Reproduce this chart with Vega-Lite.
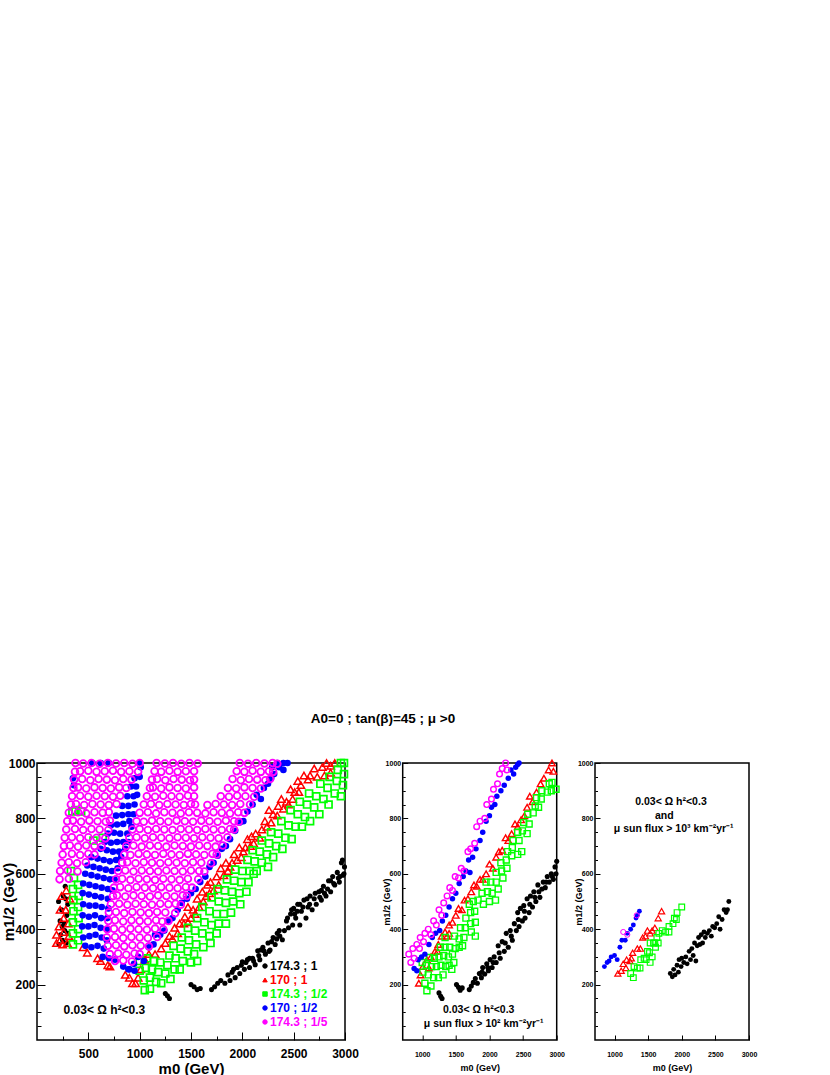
{"$schema":"https://vega.github.io/schema/vega-lite/v6.json","background":"white","padding":{"left":0,"top":711,"right":5,"bottom":0},"bounds":"flush","spacing":57.7,"title":{"text":"A0=0 ; tan(β)=45 ; μ >0","font":"Liberation Sans","fontSize":13.5,"fontWeight":"bold","color":"black","anchor":"middle","offset":30,"dx":4},"config":{"view":{"stroke":"black","strokeWidth":1.5},"font":"Liberation Sans","axis":{"grid":false,"domain":false,"labelFlush":false,"labelFont":"Liberation Sans","titleFont":"Liberation Sans","labelFontWeight":"bold","titleFontWeight":"bold","labelColor":"black","titleColor":"black","tickColor":"black"},"text":{"font":"Liberation Sans","fontWeight":"bold","color":"black"}},"resolve":{"scale":{"color":"independent","shape":"independent"},"legend":{"color":"independent","shape":"independent"}},"datasets":{
"a_0":[],
"a_k":[{"x":1250,"y":168},{"x":1270,"y":160},{"x":1290,"y":150},{"x":1500,"y":200},{"x":1530,"y":192},{"x":1560,"y":182},{"x":1590,"y":186},{"x":1700,"y":182},{"x":1730,"y":192},{"x":1760,"y":205},{"x":1790,"y":215},{"x":1830,"y":205},{"x":1860,"y":235},{"x":1880,"y":215},{"x":1900,"y":245},{"x":1930,"y":225},{"x":1950,"y":262},{"x":1975,"y":240},{"x":2000,"y":282},{"x":2020,"y":255},{"x":2050,"y":290},{"x":2070,"y":262},{"x":2100,"y":295},{"x":2125,"y":272},{"x":2150,"y":322},{"x":2170,"y":290},{"x":2200,"y":335},{"x":2225,"y":310},{"x":2250,"y":350},{"x":2270,"y":325},{"x":2300,"y":370},{"x":2320,"y":345},{"x":2340,"y":385},{"x":2365,"y":375},{"x":2390,"y":362},{"x":2410,"y":395},{"x":2430,"y":430},{"x":2450,"y":405},{"x":2470,"y":455},{"x":2490,"y":415},{"x":2500,"y":475},{"x":2520,"y":440},{"x":2540,"y":490},{"x":2560,"y":415},{"x":2575,"y":465},{"x":2600,"y":505},{"x":2620,"y":440},{"x":2640,"y":480},{"x":2660,"y":520},{"x":2680,"y":470},{"x":2700,"y":510},{"x":2720,"y":490},{"x":2745,"y":535},{"x":2770,"y":505},{"x":2790,"y":555},{"x":2815,"y":520},{"x":2840,"y":575},{"x":2860,"y":535},{"x":2880,"y":590},{"x":2900,"y":560},{"x":2925,"y":605},{"x":2945,"y":570},{"x":2965,"y":640},{"x":2980,"y":595},{"x":2995,"y":625},{"x":2975,"y":650},{"x":2950,"y":590},{"x":2860,"y":575},{"x":2770,"y":540},{"x":2560,"y":490},{"x":2480,"y":470},{"x":2360,"y":395},{"x":2260,"y":320},{"x":2180,"y":325},{"x":2070,"y":295},{"x":1915,"y":255},{"x":1990,"y":270},{"x":2035,"y":280},{"x":2110,"y":285},{"x":2160,"y":305},{"x":2210,"y":322},{"x":2285,"y":355},{"x":2335,"y":365},{"x":2440,"y":440},{"x":2510,"y":455},{"x":2535,"y":465},{"x":2590,"y":480},{"x":2630,"y":510},{"x":2655,"y":490},{"x":2710,"y":530},{"x":2755,"y":515},{"x":2800,"y":530},{"x":2830,"y":545},{"x":2890,"y":565},{"x":2935,"y":585},{"x":2990,"y":600},{"x":210,"y":500},{"x":230,"y":380},{"x":240,"y":470},{"x":250,"y":360},{"x":255,"y":520},{"x":265,"y":420},{"x":275,"y":555},{"x":285,"y":350},{"x":290,"y":450},{"x":300,"y":490},{"x":300,"y":385},{"x":225,"y":430},{"x":270,"y":395},{"x":215,"y":345},{"x":245,"y":410},{"x":280,"y":510}],
"a_r":[{"x":960,"y":205},{"x":985,"y":225},{"x":1010,"y":255},{"x":1050,"y":290},{"x":1090,"y":310},{"x":1150,"y":310},{"x":1210,"y":330},{"x":1250,"y":350},{"x":1290,"y":375},{"x":1340,"y":405},{"x":1390,"y":420},{"x":1440,"y":445},{"x":1470,"y":480},{"x":1520,"y":470},{"x":1560,"y":510},{"x":1610,"y":535},{"x":1650,"y":520},{"x":1690,"y":570},{"x":1750,"y":590},{"x":1790,"y":620},{"x":1840,"y":640},{"x":1880,"y":625},{"x":1920,"y":670},{"x":1970,"y":695},{"x":2010,"y":680},{"x":2050,"y":725},{"x":2090,"y":735},{"x":2130,"y":745},{"x":2190,"y":760},{"x":2220,"y":790},{"x":2260,"y":830},{"x":2300,"y":815},{"x":2350,"y":845},{"x":2380,"y":870},{"x":2430,"y":860},{"x":2470,"y":905},{"x":2510,"y":895},{"x":2540,"y":935},{"x":2570,"y":920},{"x":2600,"y":955},{"x":2640,"y":940},{"x":2700,"y":980},{"x":2780,"y":985},{"x":2820,"y":1000},{"x":2860,"y":990},{"x":2900,"y":1000},{"x":1430,"y":420},{"x":1500,"y":440},{"x":1580,"y":480},{"x":1660,"y":560},{"x":1720,"y":540},{"x":1820,"y":595},{"x":1950,"y":650},{"x":2080,"y":700},{"x":2240,"y":770},{"x":2340,"y":810},{"x":2450,"y":850},{"x":1320,"y":365},{"x":1370,"y":385},{"x":1470,"y":425},{"x":1540,"y":455},{"x":1620,"y":500},{"x":1680,"y":530},{"x":1770,"y":560},{"x":1860,"y":610},{"x":1900,"y":640},{"x":1990,"y":660},{"x":2030,"y":695},{"x":2110,"y":710},{"x":2170,"y":730},{"x":2280,"y":785},{"x":2400,"y":835},{"x":2490,"y":870},{"x":2550,"y":895},{"x":2660,"y":955},{"x":2730,"y":950},{"x":2800,"y":955},{"x":2860,"y":965},{"x":190,"y":350},{"x":190,"y":380},{"x":215,"y":410},{"x":225,"y":360},{"x":225,"y":470},{"x":240,"y":520},{"x":250,"y":345},{"x":260,"y":440},{"x":260,"y":390},{"x":280,"y":470},{"x":285,"y":540},{"x":295,"y":350},{"x":305,"y":420},{"x":310,"y":375},{"x":320,"y":510},{"x":450,"y":335},{"x":490,"y":315},{"x":590,"y":295},{"x":620,"y":285},{"x":690,"y":270},{"x":710,"y":265},{"x":860,"y":235},{"x":900,"y":225},{"x":930,"y":205}],
"a_g":[{"x":1050,"y":180},{"x":1100,"y":185},{"x":1040,"y":215},{"x":1100,"y":225},{"x":1160,"y":210},{"x":1210,"y":205},{"x":1000,"y":250},{"x":1060,"y":260},{"x":1120,"y":255},{"x":1180,"y":245},{"x":1250,"y":240},{"x":1300,"y":220},{"x":1000,"y":285},{"x":1070,"y":295},{"x":1140,"y":285},{"x":1200,"y":280},{"x":1270,"y":270},{"x":1340,"y":255},{"x":1390,"y":255},{"x":1290,"y":305},{"x":1350,"y":295},{"x":1420,"y":285},{"x":1500,"y":280},{"x":1560,"y":285},{"x":1330,"y":340},{"x":1400,"y":330},{"x":1470,"y":320},{"x":1530,"y":310},{"x":1410,"y":370},{"x":1480,"y":360},{"x":1550,"y":345},{"x":1620,"y":335},{"x":1690,"y":350},{"x":1470,"y":405},{"x":1540,"y":395},{"x":1610,"y":385},{"x":1680,"y":375},{"x":1750,"y":385},{"x":1560,"y":440},{"x":1630,"y":425},{"x":1700,"y":415},{"x":1770,"y":420},{"x":1840,"y":420},{"x":1610,"y":480},{"x":1680,"y":465},{"x":1750,"y":455},{"x":1820,"y":455},{"x":1890,"y":460},{"x":1700,"y":515},{"x":1770,"y":500},{"x":1840,"y":495},{"x":1910,"y":500},{"x":1980,"y":490},{"x":2040,"y":535},{"x":1760,"y":545},{"x":1830,"y":540},{"x":1900,"y":535},{"x":1970,"y":530},{"x":1850,"y":580},{"x":1920,"y":575},{"x":1990,"y":570},{"x":2060,"y":570},{"x":2110,"y":600},{"x":1930,"y":615},{"x":2000,"y":610},{"x":2070,"y":610},{"x":2140,"y":610},{"x":2050,"y":650},{"x":2120,"y":645},{"x":2190,"y":640},{"x":2250,"y":625},{"x":2100,"y":685},{"x":2170,"y":680},{"x":2240,"y":670},{"x":2300,"y":660},{"x":2190,"y":720},{"x":2260,"y":710},{"x":2330,"y":700},{"x":2390,"y":690},{"x":2280,"y":750},{"x":2350,"y":745},{"x":2420,"y":730},{"x":2480,"y":725},{"x":2380,"y":790},{"x":2450,"y":775},{"x":2520,"y":770},{"x":2580,"y":770},{"x":2470,"y":830},{"x":2540,"y":815},{"x":2610,"y":805},{"x":2660,"y":790},{"x":2560,"y":860},{"x":2630,"y":850},{"x":2700,"y":840},{"x":2750,"y":815},{"x":2650,"y":890},{"x":2720,"y":880},{"x":2790,"y":870},{"x":2840,"y":850},{"x":2760,"y":925},{"x":2830,"y":910},{"x":2900,"y":890},{"x":2960,"y":880},{"x":2850,"y":950},{"x":2920,"y":935},{"x":2980,"y":920},{"x":2930,"y":975},{"x":2990,"y":960},{"x":2990,"y":1000},{"x":2960,"y":1000},{"x":350,"y":345},{"x":400,"y":360},{"x":350,"y":385},{"x":400,"y":400},{"x":350,"y":425},{"x":405,"y":440},{"x":355,"y":465},{"x":400,"y":480},{"x":355,"y":505},{"x":405,"y":520},{"x":350,"y":545},{"x":400,"y":560},{"x":360,"y":585},{"x":330,"y":610},{"x":550,"y":720},{"x":345,"y":825},{"x":375,"y":830},{"x":430,"y":825},{"x":640,"y":730}],
"a_b":[{"x":470,"y":340},{"x":530,"y":335},{"x":590,"y":340},{"x":650,"y":330},{"x":640,"y":300},{"x":700,"y":295},{"x":760,"y":290},{"x":840,"y":265},{"x":890,"y":255},{"x":450,"y":370},{"x":510,"y":375},{"x":570,"y":380},{"x":630,"y":370},{"x":680,"y":360},{"x":440,"y":410},{"x":500,"y":410},{"x":560,"y":415},{"x":620,"y":405},{"x":680,"y":400},{"x":445,"y":450},{"x":505,"y":445},{"x":565,"y":450},{"x":625,"y":440},{"x":685,"y":440},{"x":450,"y":490},{"x":510,"y":485},{"x":570,"y":485},{"x":630,"y":480},{"x":695,"y":475},{"x":445,"y":530},{"x":505,"y":525},{"x":565,"y":520},{"x":625,"y":515},{"x":690,"y":510},{"x":735,"y":540},{"x":450,"y":565},{"x":510,"y":560},{"x":570,"y":555},{"x":630,"y":550},{"x":690,"y":545},{"x":755,"y":580},{"x":470,"y":600},{"x":530,"y":595},{"x":590,"y":590},{"x":650,"y":585},{"x":710,"y":580},{"x":490,"y":630},{"x":550,"y":625},{"x":610,"y":620},{"x":670,"y":615},{"x":730,"y":610},{"x":785,"y":620},{"x":530,"y":660},{"x":590,"y":655},{"x":650,"y":650},{"x":710,"y":645},{"x":770,"y":650},{"x":820,"y":660},{"x":620,"y":690},{"x":680,"y":685},{"x":740,"y":680},{"x":800,"y":680},{"x":860,"y":690},{"x":660,"y":715},{"x":720,"y":712},{"x":780,"y":715},{"x":840,"y":715},{"x":890,"y":715},{"x":690,"y":745},{"x":750,"y":748},{"x":810,"y":745},{"x":880,"y":745},{"x":920,"y":770},{"x":720,"y":775},{"x":780,"y":778},{"x":840,"y":780},{"x":900,"y":790},{"x":770,"y":810},{"x":830,"y":812},{"x":890,"y":815},{"x":940,"y":815},{"x":830,"y":845},{"x":890,"y":845},{"x":950,"y":850},{"x":880,"y":880},{"x":940,"y":880},{"x":975,"y":885},{"x":915,"y":915},{"x":965,"y":915},{"x":950,"y":945},{"x":1000,"y":950},{"x":1010,"y":985},{"x":1000,"y":1000},{"x":540,"y":1000},{"x":620,"y":1000},{"x":700,"y":1000},{"x":350,"y":945},{"x":360,"y":920},{"x":900,"y":255},{"x":945,"y":275},{"x":950,"y":250},{"x":985,"y":300},{"x":1040,"y":285},{"x":1090,"y":335},{"x":1135,"y":345},{"x":1150,"y":380},{"x":1200,"y":380},{"x":1240,"y":395},{"x":1280,"y":430},{"x":1320,"y":440},{"x":1370,"y":470},{"x":1410,"y":495},{"x":1460,"y":510},{"x":1500,"y":530},{"x":1545,"y":545},{"x":1590,"y":570},{"x":1640,"y":590},{"x":1680,"y":625},{"x":1720,"y":640},{"x":1760,"y":665},{"x":1800,"y":690},{"x":1840,"y":700},{"x":1880,"y":725},{"x":1930,"y":755},{"x":1975,"y":785},{"x":2010,"y":790},{"x":2050,"y":825},{"x":2100,"y":850},{"x":2140,"y":885},{"x":2180,"y":870},{"x":2210,"y":910},{"x":2250,"y":925},{"x":2280,"y":945},{"x":2310,"y":960},{"x":2360,"y":985},{"x":2400,"y":975},{"x":2400,"y":1000},{"x":2440,"y":1000},{"x":2340,"y":1000},{"x":2290,"y":985}],
"a_m":[{"x":375,"y":1000},{"x":450,"y":998},{"x":530,"y":1000},{"x":610,"y":997},{"x":690,"y":1000},{"x":770,"y":998},{"x":850,"y":1000},{"x":930,"y":997},{"x":1000,"y":1000},{"x":1165,"y":1000},{"x":1245,"y":998},{"x":1325,"y":1000},{"x":1405,"y":997},{"x":1485,"y":1000},{"x":1565,"y":998},{"x":1975,"y":1000},{"x":2055,"y":997},{"x":2135,"y":1000},{"x":2215,"y":998},{"x":2295,"y":1000},{"x":2340,"y":997},{"x":370,"y":968},{"x":420,"y":970},{"x":500,"y":972},{"x":580,"y":968},{"x":660,"y":970},{"x":740,"y":972},{"x":820,"y":968},{"x":900,"y":970},{"x":985,"y":968},{"x":1145,"y":970},{"x":1210,"y":968},{"x":1290,"y":972},{"x":1370,"y":968},{"x":1450,"y":970},{"x":1530,"y":970},{"x":1945,"y":970},{"x":2020,"y":968},{"x":2100,"y":972},{"x":2180,"y":968},{"x":2260,"y":970},{"x":2300,"y":968},{"x":362,"y":940},{"x":440,"y":942},{"x":520,"y":938},{"x":600,"y":942},{"x":680,"y":940},{"x":760,"y":938},{"x":840,"y":942},{"x":920,"y":940},{"x":1120,"y":940},{"x":1170,"y":942},{"x":1250,"y":938},{"x":1330,"y":942},{"x":1410,"y":940},{"x":1490,"y":938},{"x":1530,"y":940},{"x":1905,"y":942},{"x":1985,"y":938},{"x":2065,"y":942},{"x":2145,"y":940},{"x":2225,"y":938},{"x":2270,"y":942},{"x":355,"y":910},{"x":400,"y":912},{"x":480,"y":908},{"x":560,"y":912},{"x":640,"y":910},{"x":720,"y":908},{"x":800,"y":912},{"x":870,"y":910},{"x":1100,"y":910},{"x":1130,"y":912},{"x":1210,"y":908},{"x":1290,"y":912},{"x":1370,"y":910},{"x":1450,"y":908},{"x":1530,"y":912},{"x":1860,"y":910},{"x":1940,"y":908},{"x":2020,"y":912},{"x":2100,"y":910},{"x":2180,"y":908},{"x":342,"y":880},{"x":420,"y":882},{"x":500,"y":878},{"x":580,"y":882},{"x":660,"y":880},{"x":740,"y":878},{"x":810,"y":882},{"x":1070,"y":880},{"x":1150,"y":878},{"x":1230,"y":882},{"x":1310,"y":880},{"x":1390,"y":878},{"x":1470,"y":882},{"x":1530,"y":880},{"x":1790,"y":880},{"x":1870,"y":878},{"x":1950,"y":882},{"x":2030,"y":880},{"x":2115,"y":878},{"x":330,"y":850},{"x":380,"y":852},{"x":460,"y":848},{"x":540,"y":852},{"x":620,"y":850},{"x":700,"y":848},{"x":775,"y":852},{"x":1040,"y":850},{"x":1110,"y":852},{"x":1190,"y":848},{"x":1270,"y":852},{"x":1350,"y":850},{"x":1430,"y":848},{"x":1540,"y":850},{"x":1500,"y":852},{"x":1660,"y":848},{"x":1740,"y":852},{"x":1820,"y":850},{"x":1900,"y":848},{"x":1980,"y":852},{"x":2075,"y":850},{"x":310,"y":820},{"x":400,"y":822},{"x":480,"y":818},{"x":560,"y":822},{"x":640,"y":820},{"x":1000,"y":820},{"x":1080,"y":822},{"x":1160,"y":818},{"x":1240,"y":822},{"x":1320,"y":820},{"x":1400,"y":818},{"x":1480,"y":822},{"x":1560,"y":820},{"x":1640,"y":818},{"x":1720,"y":822},{"x":1800,"y":820},{"x":1880,"y":818},{"x":1960,"y":822},{"x":2020,"y":820},{"x":700,"y":822},{"x":295,"y":790},{"x":350,"y":792},{"x":430,"y":788},{"x":510,"y":792},{"x":590,"y":790},{"x":670,"y":788},{"x":710,"y":792},{"x":970,"y":790},{"x":1040,"y":788},{"x":1120,"y":792},{"x":1200,"y":790},{"x":1280,"y":788},{"x":1360,"y":792},{"x":1440,"y":790},{"x":1520,"y":788},{"x":1600,"y":792},{"x":1680,"y":790},{"x":1760,"y":788},{"x":1840,"y":792},{"x":1920,"y":790},{"x":1965,"y":788},{"x":285,"y":760},{"x":370,"y":762},{"x":450,"y":758},{"x":530,"y":762},{"x":610,"y":760},{"x":695,"y":758},{"x":930,"y":760},{"x":1000,"y":762},{"x":1080,"y":758},{"x":1160,"y":762},{"x":1240,"y":760},{"x":1320,"y":758},{"x":1400,"y":762},{"x":1480,"y":760},{"x":1560,"y":758},{"x":1640,"y":762},{"x":1720,"y":760},{"x":1800,"y":758},{"x":1880,"y":762},{"x":1920,"y":760},{"x":270,"y":730},{"x":340,"y":732},{"x":420,"y":728},{"x":500,"y":732},{"x":580,"y":730},{"x":665,"y":728},{"x":900,"y":730},{"x":970,"y":732},{"x":1050,"y":728},{"x":1130,"y":732},{"x":1210,"y":730},{"x":1290,"y":728},{"x":1370,"y":732},{"x":1450,"y":730},{"x":1530,"y":728},{"x":1610,"y":732},{"x":1690,"y":730},{"x":1770,"y":728},{"x":1855,"y":732},{"x":262,"y":700},{"x":320,"y":702},{"x":400,"y":698},{"x":480,"y":702},{"x":560,"y":700},{"x":630,"y":698},{"x":870,"y":700},{"x":940,"y":702},{"x":1020,"y":698},{"x":1100,"y":702},{"x":1180,"y":700},{"x":1260,"y":698},{"x":1340,"y":702},{"x":1420,"y":700},{"x":1500,"y":698},{"x":1580,"y":702},{"x":1660,"y":700},{"x":1740,"y":698},{"x":1810,"y":702},{"x":250,"y":670},{"x":340,"y":672},{"x":420,"y":668},{"x":500,"y":672},{"x":560,"y":670},{"x":850,"y":670},{"x":910,"y":668},{"x":990,"y":672},{"x":1070,"y":670},{"x":1150,"y":668},{"x":1230,"y":672},{"x":1310,"y":670},{"x":1390,"y":668},{"x":1470,"y":672},{"x":1550,"y":670},{"x":1630,"y":668},{"x":1710,"y":672},{"x":1750,"y":670},{"x":240,"y":640},{"x":310,"y":642},{"x":390,"y":638},{"x":475,"y":642},{"x":830,"y":640},{"x":880,"y":642},{"x":960,"y":638},{"x":1040,"y":642},{"x":1120,"y":640},{"x":1200,"y":638},{"x":1280,"y":642},{"x":1360,"y":640},{"x":1440,"y":638},{"x":1520,"y":642},{"x":1600,"y":640},{"x":1695,"y":638},{"x":225,"y":610},{"x":300,"y":612},{"x":395,"y":608},{"x":790,"y":610},{"x":860,"y":612},{"x":940,"y":608},{"x":1020,"y":612},{"x":1100,"y":610},{"x":1180,"y":608},{"x":1260,"y":612},{"x":1340,"y":610},{"x":1420,"y":608},{"x":1500,"y":612},{"x":1580,"y":610},{"x":1630,"y":608},{"x":220,"y":580},{"x":310,"y":582},{"x":770,"y":580},{"x":830,"y":582},{"x":910,"y":578},{"x":990,"y":582},{"x":1070,"y":580},{"x":1150,"y":578},{"x":1230,"y":582},{"x":1310,"y":580},{"x":1390,"y":578},{"x":1470,"y":582},{"x":1570,"y":580},{"x":750,"y":550},{"x":810,"y":552},{"x":890,"y":548},{"x":970,"y":552},{"x":1050,"y":550},{"x":1130,"y":548},{"x":1210,"y":552},{"x":1290,"y":550},{"x":1370,"y":548},{"x":1450,"y":552},{"x":1510,"y":550},{"x":740,"y":520},{"x":780,"y":522},{"x":860,"y":518},{"x":940,"y":522},{"x":1020,"y":520},{"x":1100,"y":518},{"x":1180,"y":522},{"x":1260,"y":520},{"x":1340,"y":518},{"x":1420,"y":522},{"x":1460,"y":520},{"x":720,"y":490},{"x":800,"y":492},{"x":880,"y":488},{"x":960,"y":492},{"x":1040,"y":490},{"x":1120,"y":488},{"x":1200,"y":492},{"x":1280,"y":490},{"x":1400,"y":488},{"x":1350,"y":492},{"x":700,"y":460},{"x":770,"y":462},{"x":850,"y":458},{"x":930,"y":462},{"x":1010,"y":460},{"x":1090,"y":458},{"x":1170,"y":462},{"x":1250,"y":460},{"x":1345,"y":458},{"x":695,"y":430},{"x":760,"y":432},{"x":840,"y":428},{"x":920,"y":432},{"x":1000,"y":430},{"x":1080,"y":428},{"x":1160,"y":432},{"x":1280,"y":430},{"x":1220,"y":428},{"x":685,"y":400},{"x":750,"y":402},{"x":830,"y":398},{"x":910,"y":402},{"x":990,"y":400},{"x":1070,"y":398},{"x":1150,"y":402},{"x":1230,"y":400},{"x":680,"y":370},{"x":760,"y":372},{"x":840,"y":368},{"x":920,"y":372},{"x":1000,"y":370},{"x":1080,"y":368},{"x":1170,"y":372},{"x":690,"y":340},{"x":770,"y":342},{"x":850,"y":338},{"x":930,"y":342},{"x":1010,"y":340},{"x":1090,"y":338},{"x":710,"y":310},{"x":790,"y":312},{"x":870,"y":308},{"x":950,"y":312},{"x":1000,"y":310},{"x":760,"y":285},{"x":840,"y":287},{"x":925,"y":283}],
"b_k":[{"x":1250,"y":170},{"x":1275,"y":158},{"x":1295,"y":150},{"x":1510,"y":200},{"x":1540,"y":190},{"x":1565,"y":180},{"x":1595,"y":188},{"x":1700,"y":182},{"x":1730,"y":195},{"x":1760,"y":208},{"x":1790,"y":222},{"x":1820,"y":205},{"x":1850,"y":240},{"x":1880,"y":225},{"x":1900,"y":262},{"x":1930,"y":238},{"x":1960,"y":275},{"x":1985,"y":250},{"x":2010,"y":290},{"x":2040,"y":262},{"x":2070,"y":300},{"x":2100,"y":280},{"x":2130,"y":340},{"x":2160,"y":295},{"x":2190,"y":355},{"x":2220,"y":320},{"x":2250,"y":385},{"x":2280,"y":335},{"x":2310,"y":395},{"x":2340,"y":360},{"x":2370,"y":420},{"x":2400,"y":395},{"x":2420,"y":460},{"x":2440,"y":410},{"x":2460,"y":475},{"x":2490,"y":430},{"x":2510,"y":485},{"x":2530,"y":440},{"x":2560,"y":510},{"x":2590,"y":460},{"x":2610,"y":520},{"x":2640,"y":480},{"x":2660,"y":535},{"x":2690,"y":500},{"x":2720,"y":560},{"x":2750,"y":515},{"x":2780,"y":545},{"x":2800,"y":570},{"x":2830,"y":550},{"x":2860,"y":590},{"x":2890,"y":570},{"x":2920,"y":600},{"x":2950,"y":580},{"x":2975,"y":625},{"x":2990,"y":600},{"x":3000,"y":645},{"x":1890,"y":245},{"x":1975,"y":262},{"x":2055,"y":280},{"x":2145,"y":315},{"x":2235,"y":350},{"x":2325,"y":375},{"x":2430,"y":435},{"x":2520,"y":465},{"x":2600,"y":490},{"x":2675,"y":515},{"x":2735,"y":535},{"x":2845,"y":570},{"x":2935,"y":590}],
"b_r":[{"x":950,"y":205},{"x":975,"y":235},{"x":1010,"y":265},{"x":1070,"y":290},{"x":1130,"y":300},{"x":1190,"y":320},{"x":1240,"y":345},{"x":1290,"y":375},{"x":1340,"y":390},{"x":1370,"y":375},{"x":1400,"y":415},{"x":1450,"y":425},{"x":1500,"y":450},{"x":1540,"y":475},{"x":1590,"y":470},{"x":1630,"y":505},{"x":1680,"y":510},{"x":1730,"y":535},{"x":1770,"y":560},{"x":1810,"y":555},{"x":1860,"y":580},{"x":1900,"y":580},{"x":1950,"y":600},{"x":2000,"y":635},{"x":2050,"y":620},{"x":2100,"y":660},{"x":2140,"y":680},{"x":2190,"y":685},{"x":2240,"y":730},{"x":2280,"y":720},{"x":2330,"y":745},{"x":2380,"y":780},{"x":2420,"y":770},{"x":2470,"y":795},{"x":2520,"y":810},{"x":2560,"y":840},{"x":2600,"y":880},{"x":2640,"y":860},{"x":2700,"y":895},{"x":2760,"y":925},{"x":2810,"y":945},{"x":2880,"y":975},{"x":2930,"y":1000},{"x":2950,"y":970},{"x":1100,"y":260},{"x":1230,"y":320},{"x":1400,"y":385}],
"b_g":[{"x":1070,"y":178},{"x":1130,"y":195},{"x":1040,"y":205},{"x":1010,"y":245},{"x":1090,"y":235},{"x":1170,"y":225},{"x":1240,"y":225},{"x":1310,"y":235},{"x":1440,"y":255},{"x":1000,"y":280},{"x":1060,"y":270},{"x":1140,"y":265},{"x":1210,"y":265},{"x":1280,"y":270},{"x":1350,"y":265},{"x":1400,"y":270},{"x":1470,"y":280},{"x":1110,"y":298},{"x":1180,"y":295},{"x":1250,"y":300},{"x":1320,"y":305},{"x":1390,"y":300},{"x":1450,"y":310},{"x":1270,"y":335},{"x":1340,"y":335},{"x":1410,"y":335},{"x":1490,"y":330},{"x":1550,"y":335},{"x":1600,"y":340},{"x":1340,"y":370},{"x":1480,"y":375},{"x":1550,"y":365},{"x":1620,"y":370},{"x":1790,"y":375},{"x":1730,"y":390},{"x":1570,"y":405},{"x":1640,"y":405},{"x":1720,"y":420},{"x":1790,"y":425},{"x":1650,"y":440},{"x":1720,"y":460},{"x":1780,"y":465},{"x":1700,"y":490},{"x":1760,"y":500},{"x":1830,"y":505},{"x":1910,"y":490},{"x":2000,"y":500},{"x":2090,"y":505},{"x":1890,"y":530},{"x":1970,"y":535},{"x":2040,"y":530},{"x":2130,"y":545},{"x":1950,"y":570},{"x":2020,"y":570},{"x":2100,"y":570},{"x":2200,"y":585},{"x":2100,"y":605},{"x":2180,"y":610},{"x":2260,"y":620},{"x":2170,"y":640},{"x":2250,"y":650},{"x":2330,"y":665},{"x":2270,"y":680},{"x":2340,"y":695},{"x":2420,"y":670},{"x":2480,"y":680},{"x":2350,"y":720},{"x":2440,"y":720},{"x":2420,"y":750},{"x":2490,"y":755},{"x":2560,"y":745},{"x":2510,"y":785},{"x":2590,"y":780},{"x":2570,"y":815},{"x":2650,"y":820},{"x":2680,"y":845},{"x":2730,"y":840},{"x":2700,"y":875},{"x":2770,"y":870},{"x":2780,"y":900},{"x":2860,"y":895},{"x":2920,"y":900},{"x":2990,"y":905},{"x":2890,"y":925},{"x":2930,"y":930}],
"b_b":[{"x":880,"y":258},{"x":920,"y":250},{"x":940,"y":290},{"x":990,"y":300},{"x":1040,"y":310},{"x":1100,"y":345},{"x":1150,"y":370},{"x":1200,"y":385},{"x":1260,"y":395},{"x":1300,"y":430},{"x":1350,"y":450},{"x":1400,"y":480},{"x":1450,"y":510},{"x":1500,"y":530},{"x":1550,"y":565},{"x":1610,"y":590},{"x":1650,"y":610},{"x":1710,"y":605},{"x":1690,"y":650},{"x":1750,"y":660},{"x":1800,"y":690},{"x":1860,"y":720},{"x":1900,"y":750},{"x":1950,"y":790},{"x":2000,"y":810},{"x":2030,"y":840},{"x":2080,"y":850},{"x":2110,"y":880},{"x":2170,"y":900},{"x":2220,"y":920},{"x":2280,"y":945},{"x":2320,"y":975},{"x":2360,"y":960},{"x":2390,"y":985},{"x":2440,"y":1000},{"x":2420,"y":995}],
"b_m":[{"x":800,"y":310},{"x":830,"y":280},{"x":860,"y":330},{"x":880,"y":295},{"x":920,"y":345},{"x":970,"y":370},{"x":960,"y":330},{"x":1020,"y":355},{"x":1040,"y":385},{"x":1090,"y":400},{"x":1130,"y":380},{"x":1170,"y":430},{"x":1210,"y":415},{"x":1250,"y":470},{"x":1290,"y":450},{"x":1320,"y":495},{"x":1370,"y":520},{"x":1410,"y":550},{"x":1450,"y":540},{"x":1490,"y":590},{"x":1540,"y":585},{"x":1580,"y":620},{"x":1620,"y":610},{"x":1680,"y":680},{"x":1720,"y":690},{"x":1780,"y":710},{"x":1810,"y":770},{"x":1860,"y":790},{"x":1930,"y":800},{"x":1960,"y":850},{"x":2030,"y":870},{"x":2060,"y":905},{"x":2120,"y":925},{"x":2150,"y":960},{"x":2190,"y":980},{"x":2240,"y":1000},{"x":2260,"y":975}],
"c_k":[{"x":1830,"y":240},{"x":1860,"y":228},{"x":1880,"y":255},{"x":1900,"y":235},{"x":1930,"y":270},{"x":1950,"y":245},{"x":1960,"y":290},{"x":1990,"y":265},{"x":2000,"y":295},{"x":2030,"y":280},{"x":2060,"y":300},{"x":2080,"y":275},{"x":2110,"y":320},{"x":2130,"y":290},{"x":2150,"y":330},{"x":2170,"y":305},{"x":2190,"y":350},{"x":2210,"y":285},{"x":2230,"y":340},{"x":2250,"y":370},{"x":2270,"y":345},{"x":2290,"y":380},{"x":2310,"y":350},{"x":2330,"y":390},{"x":2350,"y":370},{"x":2380,"y":385},{"x":2410,"y":395},{"x":2440,"y":375},{"x":2460,"y":410},{"x":2490,"y":405},{"x":2520,"y":420},{"x":2550,"y":445},{"x":2570,"y":400},{"x":2600,"y":435},{"x":2630,"y":470},{"x":2660,"y":460},{"x":2680,"y":470},{"x":2700,"y":500}],
"c_r":[{"x":1050,"y":240},{"x":1100,"y":250},{"x":1130,"y":275},{"x":1170,"y":260},{"x":1180,"y":290},{"x":1230,"y":285},{"x":1250,"y":295},{"x":1270,"y":315},{"x":1340,"y":330},{"x":1385,"y":330},{"x":1420,"y":370},{"x":1460,"y":375},{"x":1490,"y":395},{"x":1530,"y":385},{"x":1560,"y":395},{"x":1600,"y":405},{"x":1650,"y":440},{"x":1700,"y":465}],
"c_g":[{"x":1240,"y":240},{"x":1280,"y":225},{"x":1290,"y":265},{"x":1340,"y":260},{"x":1380,"y":260},{"x":1390,"y":290},{"x":1440,"y":295},{"x":1470,"y":290},{"x":1490,"y":320},{"x":1530,"y":280},{"x":1520,"y":315},{"x":1560,"y":300},{"x":1530,"y":350},{"x":1580,"y":350},{"x":1610,"y":335},{"x":1630,"y":370},{"x":1660,"y":385},{"x":1710,"y":395},{"x":1760,"y":390},{"x":1810,"y":390},{"x":1810,"y":410},{"x":1870,"y":420},{"x":1890,"y":440},{"x":1920,"y":435},{"x":1930,"y":460},{"x":2000,"y":480},{"x":1600,"y":350},{"x":1650,"y":350}],
"c_b":[{"x":850,"y":265},{"x":890,"y":280},{"x":920,"y":285},{"x":950,"y":300},{"x":1000,"y":305},{"x":1040,"y":290},{"x":1080,"y":335},{"x":1110,"y":360},{"x":1160,"y":360},{"x":1190,"y":385},{"x":1240,"y":400},{"x":1280,"y":415},{"x":1320,"y":440},{"x":1370,"y":465},{"x":1340,"y":450}],
"c_m":[{"x":1130,"y":390},{"x":1190,"y":380},{"x":1330,"y":450}],
"a_t":[{"x":656,"y":110,"t":"0.03< Ω h²<0.3"}],
"b_t":[{"x":1840,"y":108,"t":"0.03< Ω h²<0.3"},{"x":1915,"y":58,"t":"μ sun flux > 10² km⁻²yr⁻¹"}],
"c_t":[{"x":1840,"y":861,"t":"0.03< Ω h²<0.3"},{"x":1740,"y":810,"t":"and"},{"x":1880,"y":761,"t":"μ sun flux > 10³ km⁻²yr⁻¹"}]
},
"hconcat":[
{"width":308,"height":277,"encoding":{"x":{"field":"x","type":"quantitative","scale":{"domain":[0,3000],"nice":false},"title":"m0 (GeV)","axis":{"values":[250,500,750,1000,1250,1500,1750,2000,2250,2500,2750,3000],"labelExpr":"datum.value%500===0?datum.label:''","labelFontSize":12,"titleFontSize":15,"labelPadding":16,"titlePadding":-2,"tickSize":{"condition":{"test":"datum.value%500===0","value":-8},"value":-4},"format":"d","labelOverlap":false}},"y":{"field":"y","type":"quantitative","scale":{"domain":[0,1000],"nice":false},"title":"m1/2 (GeV)","axis":{"values":[50,100,150,200,250,300,350,400,450,500,550,600,650,700,750,800,850,900,950,1000],"labelExpr":"datum.value%200===0?datum.label:''","labelFontSize":12,"titleFontSize":15,"labelPadding":10,"titlePadding":-8,"tickSize":{"condition":{"test":"datum.value%200===0","value":-8},"value":-4},"format":"d","labelOverlap":false}}},
"layer":[
{"data":{"name":"a_0"},"mark":{"type":"point","filled":false,"size":20,"strokeWidth":1,"opacity":1},"encoding":{"color":{"datum":"174.3 ; 1","scale":{"domain":["174.3 ; 1","170 ; 1","174.3 ; 1/2","170 ; 1/2","174.3 ; 1/5"],"range":["#000000","#ff0000","#00ff00","#0000ff","#ff00ff"]},"legend":{"orient":"none","legendX":222,"legendY":197,"title":null,"labelFont":"Liberation Sans","labelFontSize":12,"labelFontWeight":"bold","rowPadding":2,"symbolSize":20,"labelOffset":-1,"encoding":{"labels":{"fill":{"value":{"expr":"{'174.3 ; 1':'#000000','170 ; 1':'#ff0000','174.3 ; 1/2':'#00ff00','170 ; 1/2':'#0000ff','174.3 ; 1/5':'#ff00ff'}[datum.label]"}}},"symbols":{"strokeWidth":{"value":1},"fill":{"value":{"expr":"{'174.3 ; 1':'#000000','170 ; 1':'transparent','174.3 ; 1/2':'transparent','170 ; 1/2':'#0000ff','174.3 ; 1/5':'transparent'}[datum.label]"}}}}}},"shape":{"datum":"174.3 ; 1","scale":{"domain":["174.3 ; 1","170 ; 1","174.3 ; 1/2","170 ; 1/2","174.3 ; 1/5"],"range":["circle","triangle-up","square","circle","circle"]}}}},
{"data":{"name":"a_k"},"mark":{"type":"point","filled":true,"size":26,"opacity":1},"encoding":{"color":{"datum":"174.3 ; 1"},"shape":{"datum":"174.3 ; 1"}}},
{"data":{"name":"a_r"},"mark":{"type":"point","filled":false,"size":55,"strokeWidth":1.5,"opacity":1},"encoding":{"color":{"datum":"170 ; 1"},"shape":{"datum":"170 ; 1"}}},
{"data":{"name":"a_g"},"mark":{"type":"point","filled":false,"size":48,"strokeWidth":1.7,"opacity":1},"encoding":{"color":{"datum":"174.3 ; 1/2"},"shape":{"datum":"174.3 ; 1/2"}}},
{"data":{"name":"a_b"},"mark":{"type":"point","filled":true,"size":44,"opacity":1},"encoding":{"color":{"datum":"170 ; 1/2"},"shape":{"datum":"170 ; 1/2"}}},
{"data":{"name":"a_m"},"mark":{"type":"point","filled":false,"size":46,"strokeWidth":1.8,"opacity":1},"encoding":{"color":{"datum":"174.3 ; 1/5"},"shape":{"datum":"174.3 ; 1/5"}}},
{"data":{"name":"a_t"},"mark":{"type":"text","fontSize":12},"encoding":{"text":{"field":"t"}}}
]},
{"spacing":38.3,"bounds":"flush","hconcat":[
{"width":154,"height":277,"encoding":{"x":{"field":"x","type":"quantitative","scale":{"domain":[710,3000],"nice":false},"title":"m0 (GeV)","axis":{"values":[1000,1500,2000,2500,3000],"labelFontSize":7,"titleFontSize":9,"labelPadding":15.5,"titlePadding":6,"tickSize":-5,"format":"d"}},"y":{"field":"y","type":"quantitative","scale":{"domain":[0,1000],"nice":false},"title":"m1/2 (GeV)","axis":{"values":[50,100,150,200,250,300,350,400,450,500,550,600,650,700,750,800,850,900,950,1000],"labelExpr":"datum.value%200===0?datum.label:''","labelFontSize":7,"titleFontSize":9,"labelPadding":7,"titlePadding":-6,"tickSize":{"condition":{"test":"datum.value%200===0","value":-5},"value":-2.5},"format":"d","labelOverlap":false}}},
"layer":[
{"data":{"name":"b_k"},"mark":{"type":"point","filled":true,"size":26,"color":"#000000","opacity":1}},
{"data":{"name":"b_r"},"mark":{"type":"point","shape":"triangle-up","color":"#ff0000","filled":false,"size":42,"strokeWidth":1.4,"opacity":1}},
{"data":{"name":"b_g"},"mark":{"type":"point","shape":"square","color":"#00ff00","filled":false,"size":36,"strokeWidth":1.4,"opacity":1}},
{"data":{"name":"b_b"},"mark":{"type":"point","color":"#0000ff","filled":true,"size":30,"opacity":1}},
{"data":{"name":"b_m"},"mark":{"type":"point","color":"#ff00ff","filled":false,"size":32,"strokeWidth":1.4,"opacity":1}},
{"data":{"name":"b_t"},"mark":{"type":"text","fontSize":10.5},"encoding":{"text":{"field":"t"}}}
]},
{"width":154,"height":277,"encoding":{"x":{"field":"x","type":"quantitative","scale":{"domain":[710,3000],"nice":false},"title":"m0 (GeV)","axis":{"values":[1000,1500,2000,2500,3000],"labelFontSize":7,"titleFontSize":9,"labelPadding":15.5,"titlePadding":6,"tickSize":-5,"format":"d"}},"y":{"field":"y","type":"quantitative","scale":{"domain":[0,1000],"nice":false},"title":"m1/2 (GeV)","axis":{"values":[50,100,150,200,250,300,350,400,450,500,550,600,650,700,750,800,850,900,950,1000],"labelExpr":"datum.value%200===0?datum.label:''","labelFontSize":7,"titleFontSize":9,"labelPadding":7,"titlePadding":-6,"tickSize":{"condition":{"test":"datum.value%200===0","value":-5},"value":-2.5},"format":"d","labelOverlap":false}}},
"layer":[
{"data":{"name":"c_k"},"mark":{"type":"point","filled":true,"size":24,"color":"#000000","opacity":1}},
{"data":{"name":"c_r"},"mark":{"type":"point","shape":"triangle-up","color":"#ff0000","filled":false,"size":38,"strokeWidth":1.2,"opacity":1}},
{"data":{"name":"c_g"},"mark":{"type":"point","shape":"square","color":"#00ff00","filled":false,"size":32,"strokeWidth":1.2,"opacity":1}},
{"data":{"name":"c_b"},"mark":{"type":"point","color":"#0000ff","filled":true,"size":24,"opacity":1}},
{"data":{"name":"c_m"},"mark":{"type":"point","color":"#ff00ff","filled":false,"size":26,"strokeWidth":1,"opacity":1}},
{"data":{"name":"c_t"},"mark":{"type":"text","fontSize":10.5},"encoding":{"text":{"field":"t"}}}
]}
]}
]}
